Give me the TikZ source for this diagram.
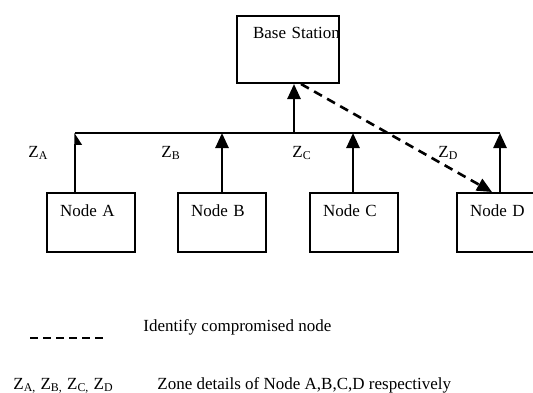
\documentclass[tikz,border=0pt]{standalone}
\usepackage{fontspec}
\setmainfont{Liberation Serif}
\usepackage{tikz}
\usetikzlibrary{arrows.meta,positioning,calc}
\definecolor{ink}{HTML}{000000}
\tikzset{
  unitbox/.style={draw=ink,line width=1pt,anchor=north west,align=left,
    inner xsep=6.5pt,inner ysep=0pt,text width=31pt,text height=11.5pt,text depth=18pt},
  uplink/.style={ink,line width=1.3pt,-{Triangle[width=6.5pt,length=7.5pt]}},
  keytext/.style={anchor=base west,inner sep=0pt},
}
\begin{document}
\begin{tikzpicture}[x=0.5pt,y=-0.5pt,font=\fontsize{8.5}{10}\selectfont]
  \useasboundingbox (0,0) rectangle (533,392);
  \clip (0,0) rectangle (533,392);
  \node[unitbox,inner xsep=8pt,text width=35pt,text height=11pt,text depth=22.5pt] (bs) at (236,15) {\mbox{Base Station}};
  \foreach \n/\x/\z/\lx in {A/46/75/28, B/177/222/161, C/309/353/292, D/456/500/438}{
    \node[unitbox] (\n) at (\x,192) {Node \n};
    \coordinate (z\n) at (\z,133);
    \node[keytext] (lab\n) at (\lx,157) {Z\textsubscript{\n}};}
  \draw[ink,line width=0.6pt] (zA) -- (zD);
  \draw[ink,line width=0.6pt,-{Stealth[inset=0pt,width=7pt,length=5.5pt,right]}] (zA |- A.north) -- (zA);
  \foreach \n in {B,C,D}
    \draw[uplink] (z\n |- \n.north) -- (z\n);
  \coordinate (zbs) at (294,133);
  \draw[uplink] (zbs) -- (zbs |- bs.south);
  % compromised node
  \draw[uplink,dash pattern=on 4.5pt off 3pt] ($(bs.south)+(13,0)$) -- ($(D.north west)+(36,0)$);
  % key
  \draw[ink,line width=1.2pt,dash pattern=on 4pt off 2.5pt] (30,338) coordinate (k1) -- (103,338) coordinate (k2);
  \node[keytext] (keydash) at (143,331) {Identify compromised node};
  \node[keytext] (keyz) at (13,389) {Z\textsubscript{A,} Z\textsubscript{B,} Z\textsubscript{C,} Z\textsubscript{D}};
  \node[keytext] (keyzone) at (157,389) {Zone details of Node A,B,C,D respectively};
\end{tikzpicture}
\end{document}
